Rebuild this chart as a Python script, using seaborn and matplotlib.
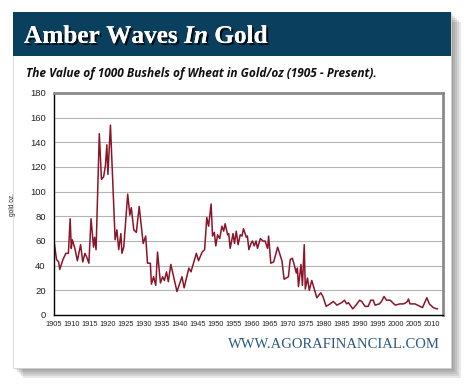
"""Amber Waves In Gold - wheat priced in gold ounces, 1905 to present."""

import matplotlib
matplotlib.use("Agg")
import matplotlib.pyplot as plt
import matplotlib.patheffects as pe
from matplotlib.patches import Rectangle
import seaborn as sns
import pandas as pd

# value of 1000 bushels of wheat, in gold oz
years = [
    1905.0, 1905.7, 1906.3, 1906.6, 1907.5, 1908.3, 1909.0, 1909.5, 1909.8, 1910.1,
    1910.8, 1911.5, 1912.4, 1913.0, 1913.6, 1914.1, 1914.7, 1915.3, 1916.0, 1916.3,
    1916.7, 1917.6, 1918.2, 1918.8, 1919.3, 1919.7, 1920.0, 1920.7, 1922.0, 1922.5,
    1923.0, 1923.6, 1923.9, 1924.4, 1925.5, 1926.1, 1926.5, 1927.2, 1927.9, 1928.7,
    1929.0, 1929.8, 1930.5, 1931.0, 1931.8, 1932.1, 1932.7, 1933.3, 1933.8, 1934.6,
    1935.2, 1935.7, 1936.3, 1936.8, 1937.5, 1939.2, 1940.6, 1941.2, 1942.5, 1943.1,
    1944.6, 1945.2, 1946.2, 1946.9, 1947.5, 1948.0, 1948.7, 1949.1, 1949.6, 1950.0,
    1950.5, 1951.1, 1951.7, 1952.2, 1952.6, 1953.3, 1953.6, 1954.0, 1954.8, 1955.2,
    1955.7, 1956.2, 1956.8, 1957.3, 1957.7, 1958.5, 1958.8, 1959.2, 1959.8, 1960.2,
    1960.7, 1961.2, 1961.6, 1962.4, 1963.1, 1963.7, 1964.4, 1964.7, 1965.3, 1966.1,
    1967.2, 1968.4, 1969.0, 1970.2, 1970.7, 1971.3, 1971.8, 1972.4, 1972.7, 1973.0,
    1973.7, 1974.1, 1974.6, 1974.9, 1975.5, 1976.0, 1976.7, 1977.4, 1978.1, 1979.2,
    1979.8, 1980.7, 1981.8, 1982.7, 1983.7, 1985.0, 1985.8, 1986.4, 1986.9, 1988.1,
    1989.0, 1990.0, 1990.6, 1991.5, 1992.4, 1993.1, 1993.8, 1994.3, 1995.5, 1996.1,
    1996.8, 1997.5, 1998.5, 1999.9, 2001.2, 2002.2, 2002.9, 2003.3, 2003.6, 2004.0,
    2005.4, 2006.8, 2007.5, 2008.7, 2009.4, 2010.5, 2011.4, 2011.7,
]
gold_oz = [
    60, 45, 43, 37, 45, 50, 50, 78, 54, 61,
    54, 44, 57, 43, 50, 47, 42, 78, 55, 63,
    53, 147, 110, 112, 121, 138, 114, 154, 61, 69,
    53, 66, 50, 55, 98, 81, 87, 69, 67, 88,
    80, 58, 64, 42, 42, 25, 31, 24, 51, 26,
    31, 28, 35, 27, 41, 19, 31, 22, 38, 35,
    50, 44, 51, 53, 79, 72, 90, 64, 67, 56,
    65, 62, 72, 68, 74, 65, 66, 54, 66, 58,
    68, 57, 65, 64, 70, 63, 64, 53, 58, 60,
    56, 60, 54, 62, 60, 60, 54, 64, 42, 43,
    55, 44, 29, 31, 45, 46, 41, 34, 38, 23,
    41, 24, 57, 21, 30, 20, 28, 21, 14, 18,
    15, 7, 9, 11, 8, 10, 12, 9, 10, 5,
    8, 12, 11, 7, 7, 12, 12, 8, 9, 11,
    15, 12, 12, 8, 9, 9, 10, 11, 13, 9,
    9, 7, 6, 14, 9, 6, 5, 5,
]
x_ticks = list(range(1905, 2011, 5))
y_ticks = list(range(0, 181, 20))

df = pd.DataFrame({"year": years, "gold_oz": gold_oz})

sns.set_style("white")
plt.rcParams["mathtext.fontset"] = "custom"
plt.rcParams["mathtext.it"] = "Liberation Serif:italic:bold"
plt.rcParams["mathtext.rm"] = "Liberation Serif:bold"

W, H = 470, 389
fig = plt.figure(figsize=(W / 100, H / 100), dpi=100, facecolor="white")


def fx(px):
    return px / W


def fy(py):
    return 1 - py / H


# soft drop shadow behind the card
for i in range(5):
    off = 2 + i * 2
    fig.patches.append(Rectangle((fx(13 + off), fy(368 + off)), fx(438), 356 / H,
                                 transform=fig.transFigure, facecolor="#303030",
                                 edgecolor="none", alpha=0.11, zorder=0))
# card and header band
fig.patches.append(Rectangle((fx(13), fy(368)), fx(438), 356 / H, transform=fig.transFigure,
                             facecolor="white", edgecolor="#d0d0d0", lw=0.5, zorder=1))
fig.patches.append(Rectangle((fx(13), fy(56)), fx(438), 44 / H, transform=fig.transFigure,
                             facecolor="#0b3f5e", edgecolor="none", zorder=2))

fig.text(fx(24), fy(43), r"Amber Waves $\mathit{In}$ Gold", color="white",
         family="Liberation Serif", weight="bold", fontsize=18.2, zorder=3,
         path_effects=[pe.withSimplePatchShadow(offset=(1.5, -1.5), shadow_rgbFace="black",
                                                alpha=0.8), pe.Normal()])
fig.text(fx(26), fy(73), "The Value of 1000 Bushels of Wheat in Gold/oz (1905 - Present).",
         family=["Open Sans", "DejaVu Sans"], weight="bold", style="italic",
         fontsize=8.6, va="center", color="#111111", zorder=3)
fig.text(fx(440), fy(344), "WWW.AGORAFINANCIAL.COM", ha="right", va="center",
         family="Liberation Serif", fontsize=10.5, color="#2b5a7e", zorder=3)

ax = fig.add_axes([fx(54), fy(315), fx(443 - 54), (315 - 93) / H], zorder=4)
ax.set_facecolor("white")
sns.lineplot(data=df, x="year", y="gold_oz", ax=ax, color="#8b1528", lw=1.1,
             estimator=None, sort=False)

ax.set_xlim(1905, 2013.2)
ax.set_ylim(0, 180)
ax.set_xticks(x_ticks)
ax.set_xticklabels([str(t) for t in x_ticks], family="Liberation Sans", fontsize=5.3,
                   color="#222222")
ax.set_yticks(y_ticks)
ax.set_yticklabels([str(t) for t in y_ticks], family="Liberation Sans", fontsize=6.8,
                   color="#222222")
ax.tick_params(axis="both", length=0)
ax.tick_params(axis="x", pad=4)
ax.tick_params(axis="y", pad=6)
ax.yaxis.grid(True, color="#b4b4b4", lw=0.8)
ax.set_axisbelow(True)
ax.set_xlabel("")
ax.set_ylabel("gold oz.", family="Liberation Sans", fontsize=4.8, labelpad=10)

for side in ["left", "bottom"]:
    ax.spines[side].set_color("black")
    ax.spines[side].set_linewidth(1)
for side in ["top", "right"]:
    ax.spines[side].set_visible(True)
    ax.spines[side].set_color("#8a8a8a")
    ax.spines[side].set_linewidth(2)

fig.savefig("out.png", dpi=100, facecolor="white")
